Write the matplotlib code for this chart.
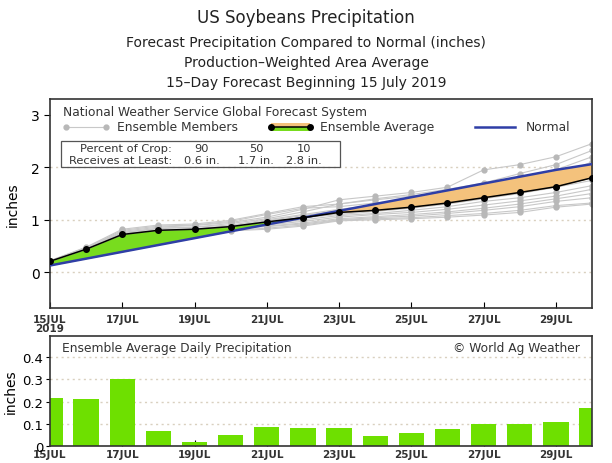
import numpy as np
import matplotlib
matplotlib.use("Agg")
import matplotlib.pyplot as plt
from matplotlib.lines import Line2D
from matplotlib.patches import Rectangle

plt.rcParams['font.family'] = ['DejaVu Sans']

# days from 15 JUL 2019 to 30 JUL 2019
dates = ['15JUL', '16JUL', '17JUL', '18JUL', '19JUL', '20JUL', '21JUL', '22JUL',
         '23JUL', '24JUL', '25JUL', '26JUL', '27JUL', '28JUL', '29JUL', '30JUL']
tick_labels = ['15JUL\n2019', '17JUL', '19JUL', '21JUL', '23JUL', '25JUL', '27JUL', '29JUL']

# cumulative precipitation (inches)
ens_avg = [0.21, 0.44, 0.72, 0.80, 0.82, 0.87, 0.96, 1.04,
           1.14, 1.18, 1.24, 1.32, 1.42, 1.52, 1.63, 1.80]
normal = [0.13, 0.26, 0.39, 0.52, 0.65, 0.78, 0.91, 1.04,
          1.17, 1.30, 1.43, 1.56, 1.69, 1.82, 1.95, 2.06]

# ensemble members (cumulative, inches)
m01 = [0.21, 0.46, 0.78, 0.86, 0.89, 0.95, 1.05, 1.20, 1.38, 1.45, 1.52, 1.62, 1.95, 2.05, 2.20, 2.45]
m02 = [0.20, 0.45, 0.75, 0.83, 0.86, 0.93, 1.02, 1.15, 1.30, 1.40, 1.48, 1.58, 1.70, 1.88, 2.05, 2.32]
m03 = [0.22, 0.47, 0.80, 0.88, 0.90, 0.97, 1.10, 1.22, 1.25, 1.32, 1.40, 1.48, 1.58, 1.70, 1.85, 2.10]
m04 = [0.20, 0.44, 0.72, 0.80, 0.83, 0.88, 0.98, 1.08, 1.18, 1.25, 1.32, 1.42, 1.55, 1.65, 1.78, 2.00]
m05 = [0.19, 0.43, 0.71, 0.78, 0.80, 0.86, 0.95, 1.03, 1.12, 1.18, 1.24, 1.35, 1.46, 1.56, 1.66, 1.85]
m06 = [0.21, 0.44, 0.73, 0.79, 0.82, 0.88, 0.96, 1.05, 1.10, 1.16, 1.22, 1.30, 1.40, 1.50, 1.62, 1.75]
m07 = [0.20, 0.42, 0.70, 0.77, 0.79, 0.85, 0.92, 1.00, 1.08, 1.12, 1.18, 1.25, 1.35, 1.42, 1.52, 1.65]
m08 = [0.19, 0.41, 0.69, 0.76, 0.78, 0.83, 0.90, 0.97, 1.05, 1.10, 1.14, 1.20, 1.28, 1.36, 1.45, 1.58]
m09 = [0.20, 0.43, 0.72, 0.78, 0.80, 0.84, 0.88, 0.94, 1.02, 1.06, 1.10, 1.15, 1.22, 1.30, 1.40, 1.50]
m10 = [0.21, 0.44, 0.74, 0.80, 0.81, 0.84, 0.87, 0.92, 1.00, 1.04, 1.07, 1.12, 1.18, 1.25, 1.35, 1.42]
m11 = [0.20, 0.42, 0.70, 0.76, 0.77, 0.80, 0.84, 0.90, 0.99, 1.02, 1.04, 1.08, 1.12, 1.18, 1.27, 1.32]
m12 = [0.19, 0.40, 0.68, 0.75, 0.76, 0.79, 0.82, 0.88, 0.98, 1.00, 1.02, 1.05, 1.09, 1.14, 1.24, 1.30]
m13 = [0.22, 0.48, 0.82, 0.90, 0.92, 0.99, 1.12, 1.25, 1.30, 1.38, 1.45, 1.52, 1.62, 1.80, 1.95, 2.20]
m14 = [0.20, 0.45, 0.76, 0.84, 0.86, 0.90, 1.00, 1.10, 1.20, 1.28, 1.36, 1.44, 1.50, 1.60, 1.72, 1.90]
members = [m01, m02, m03, m04, m05, m06, m07, m08, m09, m10, m11, m12, m13, m14]

# daily ensemble average precipitation (inches)
daily = [0.215, 0.21, 0.30, 0.066, 0.018, 0.051, 0.084, 0.081,
         0.082, 0.045, 0.057, 0.076, 0.100, 0.097, 0.107, 0.170]

x = np.arange(len(dates))
tick_pos = x[::2]

green = '#78dc1e'
orange = '#f4c27c'
blue = '#2f3ea6'
grid_c = '#d9d0bf'
txt_c = '#333333'

fig = plt.figure(figsize=(6.12, 4.64), dpi=100)

# titles
fig.text(0.5, 0.962, 'US Soybeans Precipitation', ha='center', va='center', fontsize=12, color='#222222')
fig.text(0.5, 0.907, 'Forecast Precipitation Compared to Normal (inches)', ha='center', va='center', fontsize=10, color='#222222')
fig.text(0.5, 0.864, 'Production\u2013Weighted Area Average', ha='center', va='center', fontsize=10, color='#222222')
fig.text(0.5, 0.821, '15\u2013Day Forecast Beginning 15 July 2019', ha='center', va='center', fontsize=10, color='#222222')

# ---- top panel: cumulative ----
ax = fig.add_axes([0.0817, 0.334, 0.8856, 0.4505])
for yv in [0, 1, 2]:
    ax.axhline(yv, color=grid_c, ls=(0, (1.5, 2.5)), lw=1, zorder=0)

for m in members:
    ax.plot(x, m, color='#c8c8c8', lw=0.8, marker='o', ms=3.5,
            mfc='#b8b8b8', mec='#b8b8b8', zorder=1)

avg = np.array(ens_avg)
nrm = np.array(normal)
ax.fill_between(x, avg, nrm, where=avg >= nrm, interpolate=True, color=green, lw=0, zorder=2)
ax.fill_between(x, avg, nrm, where=avg < nrm, interpolate=True, color=orange, lw=0, zorder=2)
ax.plot(x, normal, color=blue, lw=1.8, zorder=3)
ax.plot(x, ens_avg, color='black', lw=1.1, marker='o', ms=4, zorder=4)

ax.set_xlim(0, 15)
ax.set_ylim(-0.68, 3.3)
ax.set_yticks([0, 1, 2, 3])
ax.set_xticks(tick_pos)
ax.set_xticklabels(tick_labels, fontsize=7.5, fontweight='bold', color=txt_c, linespacing=0.95)
ax.tick_params(axis='x', direction='in', length=4, pad=4)
ax.tick_params(axis='y', direction='out', length=4, labelsize=10)
ax.set_ylabel('inches', fontsize=10)
ax.yaxis.set_label_coords(-0.056, 0.5)
for s in ax.spines.values():
    s.set_linewidth(1.2)
    s.set_color(txt_c)

def px(xp, yp):
    # reference pixel position -> axes fraction of the top panel
    return (xp - 50) / 542.0, (309 - yp) / 209.0

ax.text(*px(63, 113), 'National Weather Service Global Forecast System', transform=ax.transAxes,
        fontsize=8.8, va='center', ha='left', color=txt_c)
# ensemble members sample
x0, y0 = px(66, 128)
x1, _ = px(106, 128)
ax.add_line(Line2D([x0, x1], [y0, y0], transform=ax.transAxes, color='#c8c8c8', lw=0.8,
                   marker='o', ms=3.5, mfc='#b8b8b8', mec='#b8b8b8', clip_on=False))
ax.text(*px(117, 128), 'Ensemble Members', transform=ax.transAxes, fontsize=8.8, va='center', color=txt_c)
# ensemble average sample
x0, y0 = px(271, 128)
x1, _ = px(310, 128)
h = 4.0 / 209
ax.add_patch(Rectangle((x0, y0 - h), x1 - x0, h, transform=ax.transAxes, color=green, lw=0, clip_on=False))
ax.add_patch(Rectangle((x0, y0), x1 - x0, h, transform=ax.transAxes, color=orange, lw=0, clip_on=False))
ax.add_line(Line2D([x0, x1], [y0, y0], transform=ax.transAxes, color='black', lw=1.1,
                   marker='o', ms=4, clip_on=False))
ax.text(*px(320, 128), 'Ensemble Average', transform=ax.transAxes, fontsize=8.8, va='center', color=txt_c)
# normal sample
x0, y0 = px(475, 128)
x1, _ = px(515, 128)
ax.add_line(Line2D([x0, x1], [y0, y0], transform=ax.transAxes, color=blue, lw=1.8, clip_on=False))
ax.text(*px(526, 128), 'Normal', transform=ax.transAxes, fontsize=8.8, va='center', color=txt_c)

# crop percent box
bx0, by0 = px(61, 168)
bx1, by1 = px(340, 142)
ax.add_patch(Rectangle((bx0, by0), bx1 - bx0, by1 - by0, transform=ax.transAxes,
                       fill=False, ec='#555555', lw=0.9, clip_on=False))
ax.text(*px(172, 149), 'Percent of Crop:', transform=ax.transAxes, fontsize=8.2, ha='right', va='center', color=txt_c)
ax.text(*px(172, 161), 'Receives at Least:', transform=ax.transAxes, fontsize=8.2, ha='right', va='center', color=txt_c)
for cx, pct, amt in [(202, '90', '0.6 in.'), (256, '50', '1.7 in.'), (304, '10', '2.8 in.')]:
    ax.text(*px(cx, 149), pct, transform=ax.transAxes, fontsize=8.2, ha='center', va='center', color=txt_c)
    ax.text(*px(cx, 161), amt, transform=ax.transAxes, fontsize=8.2, ha='center', va='center', color=txt_c)

# ---- bottom panel: daily ----
ax2 = fig.add_axes([0.0817, 0.0366, 0.8856, 0.237])
for yv in [0.1, 0.2, 0.3, 0.4]:
    ax2.axhline(yv, color=grid_c, ls=(0, (1.5, 2.5)), lw=1, zorder=0)
ax2.bar(x, daily, width=0.7, color='#6ee000', zorder=2)
ax2.set_xlim(0, 15)
ax2.set_ylim(0, 0.495)
ax2.set_yticks([0, 0.1, 0.2, 0.3, 0.4])
ax2.set_yticklabels(['0', '0.1', '0.2', '0.3', '0.4'])
ax2.set_xticks(tick_pos)
ax2.set_xticklabels(dates[::2], fontsize=7.5, fontweight='bold', color=txt_c)
ax2.tick_params(axis='x', direction='in', length=4, pad=2)
ax2.tick_params(axis='y', direction='out', length=3, pad=2, labelsize=9.5)
ax2.set_ylabel('inches', fontsize=10)
ax2.yaxis.set_label_coords(-0.06, 0.5)
for s in ax2.spines.values():
    s.set_linewidth(1.2)
    s.set_color(txt_c)
ax2.text(0.022, 0.9, 'Ensemble Average Daily Precipitation', transform=ax2.transAxes,
         fontsize=8.8, va='center', ha='left', color=txt_c)
ax2.text(0.978, 0.9, '\u00a9 World Ag Weather', transform=ax2.transAxes,
         fontsize=8.8, va='center', ha='right', color=txt_c)

fig.savefig('out.png', dpi=100)
